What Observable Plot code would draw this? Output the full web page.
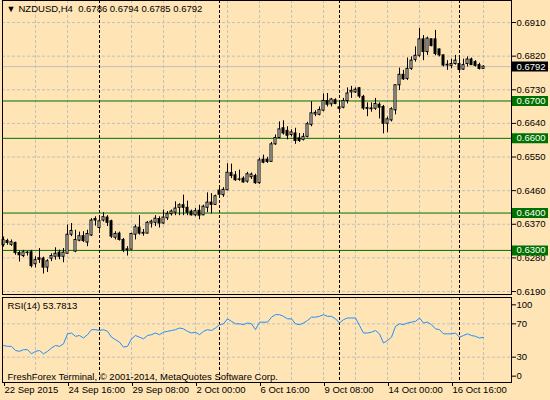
<!DOCTYPE html>
<html><head><meta charset="utf-8">
<script src="https://cdn.jsdelivr.net/npm/d3@7"></script>
<script src="https://cdn.jsdelivr.net/npm/@observablehq/plot@0.6"></script>
<style>
html,body{margin:0;padding:0;background:#FFE4B5;}
#chart{position:relative;width:550px;height:400px;background:#FFE4B5;overflow:hidden;}
#chart svg{position:absolute;left:0;}
</style></head><body><div id="chart"></div>
<script>
// ---- data (NZDUSD, H4, bar 0 = 22 Sep 2015 00:00) ----
const symbol = "NZDUSD,H4";
const lastQuote = [0.6786, 0.6794, 0.6785, 0.6792];
const opens = [
.6314,.6325,.6315,.6320,.6293,.6285,.6294,.6295,.6263,.6279,
.6278,.6254,.6278,.6283,.6294,.6283,.6291,.6342,.6297,.6326,
.6338,.6321,.6340,.6384,.6360,.6380,.6388,.6378,.6334,.6345,
.6328,.6301,.6302,.6342,.6361,.6347,.6345,.6372,.6374,.6384,
.6372,.6386,.6397,.6401,.6414,.6421,.6414,.6404,.6394,.6406,
.6394,.6414,.6428,.6422,.6460,.6448,.6461,.6507,.6501,.6490,
.6492,.6484,.6496,.6499,.6480,.6543,.6543,.6537,.6584,.6601,
.6627,.6620,.6609,.6613,.6600,.6596,.6604,.6636,.6664,.6663,
.6674,.6700,.6691,.6702,.6683,.6682,.6700,.6723,.6723,.6734,
.6711,.6681,.6680,.6679,.6690,.6684,.6639,.6648,.6675,.6742,
.6770,.6759,.6786,.6810,.6821,.6865,.6831,.6865,.6865,.6838,
.6822,.6797,.6794,.6799,.6799,.6784,.6799,.6811,.6804,.6796,
.6786];
const highs = [
.6336,.6330,.6328,.6322,.6298,.6300,.6297,.6300,.6283,.6305,
.6282,.6275,.6291,.6307,.6301,.6305,.6368,.6372,.6354,.6349,
.6350,.6354,.6385,.6390,.6385,.6401,.6393,.6381,.6350,.6349,
.6332,.6310,.6346,.6368,.6393,.6356,.6377,.6381,.6393,.6390,
.6408,.6404,.6408,.6430,.6425,.6448,.6432,.6408,.6412,.6421,
.6421,.6454,.6452,.6448,.6470,.6468,.6532,.6531,.6511,.6515,
.6497,.6509,.6507,.6504,.6547,.6555,.6549,.6589,.6609,.6644,
.6647,.6631,.6623,.6627,.6613,.6613,.6643,.6698,.6674,.6684,
.6719,.6720,.6707,.6706,.6694,.6707,.6735,.6739,.6735,.6736,
.6715,.6695,.6695,.6707,.6695,.6688,.6657,.6682,.6743,.6788,
.6782,.6815,.6818,.6845,.6894,.6875,.6871,.6866,.6889,.6839,
.6823,.6808,.6812,.6822,.6815,.6812,.6818,.6815,.6808,.6801,
.6794];
const lows = [
.6309,.6314,.6311,.6287,.6269,.6281,.6285,.6253,.6253,.6265,
.6237,.6241,.6270,.6274,.6275,.6267,.6290,.6337,.6294,.6323,
.6321,.6310,.6337,.6365,.6354,.6376,.6364,.6332,.6328,.6325,
.6294,.6285,.6301,.6328,.6341,.6338,.6344,.6360,.6364,.6360,
.6370,.6380,.6392,.6393,.6393,.6393,.6393,.6392,.6390,.6382,
.6393,.6401,.6398,.6421,.6448,.6442,.6460,.6492,.6485,.6485,
.6480,.6480,.6490,.6477,.6477,.6532,.6533,.6536,.6581,.6600,
.6609,.6596,.6604,.6584,.6589,.6593,.6601,.6631,.6658,.6660,
.6671,.6684,.6684,.6690,.6670,.6679,.6692,.6707,.6720,.6707,
.6675,.6658,.6670,.6675,.6652,.6612,.6615,.6644,.6663,.6728,
.6755,.6755,.6782,.6804,.6817,.6808,.6822,.6845,.6821,.6818,
.6791,.6782,.6786,.6796,.6782,.6782,.6791,.6795,.6791,.6783,
.6785];
const closes = [
.6328,.6320,.6322,.6293,.6287,.6295,.6293,.6258,.6274,.6275,
.6254,.6271,.6285,.6291,.6283,.6294,.6342,.6352,.6328,.6338,
.6325,.6344,.6380,.6380,.6378,.6389,.6374,.6337,.6344,.6328,
.6300,.6303,.6344,.6362,.6345,.6345,.6374,.6377,.6385,.6372,
.6388,.6397,.6404,.6412,.6421,.6414,.6401,.6394,.6405,.6393,
.6417,.6428,.6422,.6445,.6449,.6462,.6508,.6499,.6488,.6489,
.6482,.6504,.6503,.6480,.6541,.6535,.6537,.6584,.6601,.6624,
.6613,.6607,.6616,.6593,.6593,.6604,.6638,.6667,.6668,.6676,
.6700,.6690,.6704,.6692,.6679,.6700,.6720,.6727,.6730,.6712,
.6680,.6679,.6678,.6692,.6682,.6639,.6651,.6678,.6742,.6770,
.6758,.6786,.6808,.6821,.6865,.6831,.6867,.6847,.6826,.6822,
.6795,.6795,.6799,.6808,.6783,.6796,.6811,.6796,.6794,.6786,
.6792];
const rsi = [
44,43,43,38,37,39,39,34,37,38,
34,37,41,44,43,46,58,59,55,56,
53,57,63,63,62,63,61,54,51,48,
42,43,52,56,54,52,56,57,59,57,
60,61,62,63,65,64,61,59,60,57,
61,63,62,65,69,70,76,73,70,70,
69,71,70,63,72,72,72,78,81,81,
79,76,76,70,69,71,74,78,78,79,
81,79,79,76,71,75,77,77,77,68,
59,59,60,62,58,47,50,54,67,70,
69,71,72,73,77,71,72,69,64,63,
58,58,58,59,54,56,58,56,55,53,
53.7813];
const rsiPeriod = 14;
const priceTicks = [0.6190, 0.6280, 0.6370, 0.6460, 0.6550, 0.6640, 0.6730, 0.6820, 0.6910];
const levels = [0.6700, 0.6600, 0.6400, 0.6300];
const timeTickIdx = [0, 16, 32, 48, 64, 80, 96, 112];
const timeTickLabels = ["22 Sep 2015", "24 Sep 16:00", "29 Sep 08:00", "2 Oct 00:00", "6 Oct 16:00", "9 Oct 08:00", "14 Oct 00:00", "16 Oct 16:00"];
const weekStartIdx = [24, 54, 84, 114];
const gridIdx = [8, 16, 24, 32, 40, 48, 56, 64, 72, 80, 88, 96, 104, 112, 120];
const rsiTicksMid = [70, 30];
const rsiTickTop = [100];
const rsiTickBottom = [0];
const caption = "FreshForex Terminal, \u00a9 2001-2014, MetaQuotes Software Corp.";

// ---- chart ----
const bars = opens.map((o, i) => ({i, o, h: highs[i], l: lows[i], c: closes[i]}));
const fmt4 = d3.format(".4f");
const currentPrice = closes[closes.length - 1];
const gridColor = "#c0c0c0";
const levelColor = "#007000";
const labelOf = new Map(timeTickIdx.map((d, k) => [d, timeTickLabels[k]]));
const common = {
  width: 550, marginLeft: 2, marginRight: 39,
  style: {fontFamily: "'Liberation Sans', Arial, sans-serif", fontSize: "9.5px", background: "transparent", color: "black", overflow: "visible"}
};
const xDomain = [-0.25, 127];

const main = Plot.plot({
  ...common, height: 297, marginTop: 0, marginBottom: 3,
  x: {domain: xDomain, axis: null},
  y: {domain: [0.6182, 0.6969]},
  color: {type: "identity"},
  marks: [
    Plot.ruleY(priceTicks, {stroke: gridColor, strokeDasharray: "3,2"}),
    Plot.ruleX(gridIdx, {stroke: gridColor, strokeDasharray: "3,2"}),
    Plot.ruleY([currentPrice], {stroke: gridColor}),
    Plot.ruleY(levels, {stroke: levelColor}),
    Plot.ruleX(weekStartIdx, {stroke: "black", strokeDasharray: "3,2"}),
    Plot.ruleX(bars, {x: "i", y1: "l", y2: "h", stroke: "black"}),
    Plot.rect(bars, {x1: d => d.i - 0.25, x2: d => d.i + 0.25, y1: "o", y2: "c",
      fill: d => d.c >= d.o ? "white" : "black", stroke: "black"}),
    Plot.frame({stroke: "black"}),
    Plot.axisY(priceTicks, {anchor: "right", tickSize: 4, tickPadding: 1, tickFormat: fmt4, label: null}),
    Plot.ruleY([currentPrice], {stroke: "black", strokeWidth: 10, insetLeft: 510, insetRight: -37}),
    Plot.text([currentPrice], {y: d => d, frameAnchor: "right", textAnchor: "start", dx: 5, text: fmt4, fill: "white"}),
    Plot.ruleY(levels, {stroke: levelColor, strokeWidth: 10, insetLeft: 510, insetRight: -37}),
    Plot.text(levels, {y: d => d, frameAnchor: "right", textAnchor: "start", dx: 5, text: fmt4, fill: "white"}),
    Plot.text(["\u25BC"], {text: d => d, frameAnchor: "top-left", textAnchor: "start", lineAnchor: "top", dx: 4, dy: 5, fontSize: 9}),
    Plot.text([symbol + "\u00a0\u00a0" + lastQuote.map(fmt4).join(" ")], {text: d => d, frameAnchor: "top-left", textAnchor: "start", lineAnchor: "top", dx: 16, dy: 5})
  ]
});
main.style.top = "0px";

const rsiPlot = Plot.plot({
  ...common, height: 103, marginTop: 0, marginBottom: 18,
  x: {domain: xDomain},
  y: {domain: [-0.4, 101.6]},
  marks: [
    Plot.ruleY(rsiTicksMid, {stroke: gridColor, strokeDasharray: "3,2"}),
    Plot.ruleX(gridIdx, {stroke: gridColor, strokeDasharray: "3,2"}),
    Plot.ruleX(weekStartIdx, {stroke: "black", strokeDasharray: "3,2"}),
    Plot.line(rsi, {x: (d, i) => i, y: d => d, stroke: "#1E90FF", strokeWidth: 1}),
    Plot.frame({stroke: "black"}),
    Plot.axisY(rsiTicksMid, {anchor: "right", tickSize: 4, tickPadding: 1, label: null}),
    Plot.axisY(rsiTickTop, {anchor: "right", tickSize: 4, tickPadding: 1, label: null, dy: 6}),
    Plot.axisY(rsiTickBottom, {anchor: "right", tickSize: 4, tickPadding: 1, label: null, dy: -6}),
    Plot.axisX(timeTickIdx, {anchor: "bottom", tickSize: 4, tickPadding: 0, tickFormat: d => labelOf.get(d), textAnchor: "start", dx: 1, label: null}),
    Plot.text([`RSI(${rsiPeriod}) ${rsi[rsi.length - 1].toFixed(4)}`], {text: d => d, frameAnchor: "top-left", textAnchor: "start", lineAnchor: "top", dx: 5, dy: 5}),
    Plot.text([caption], {text: d => d, frameAnchor: "bottom-left", textAnchor: "start", lineAnchor: "bottom", dx: 5, dy: -3})
  ]
});
rsiPlot.style.top = "297px";

const host = document.getElementById("chart");
host.append(main, rsiPlot);
</script></body></html>
